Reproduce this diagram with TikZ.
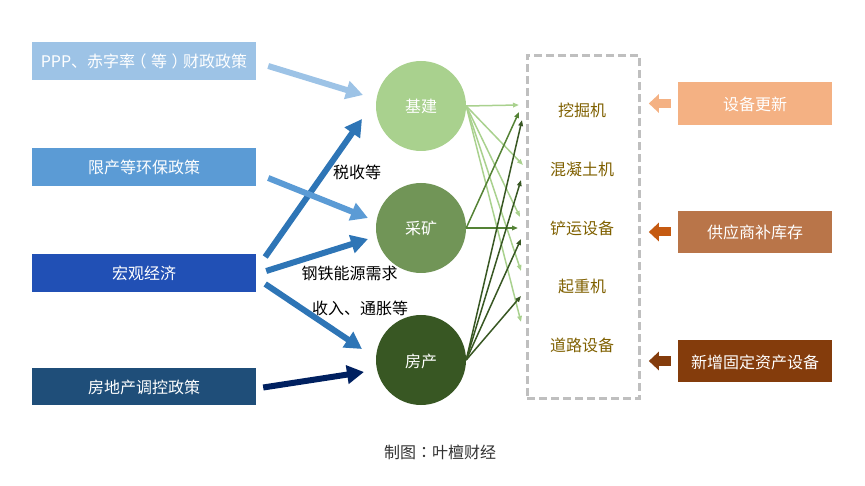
\documentclass[tikz,border=0pt]{standalone}
\usepackage{fontspec}
\setmainfont{Noto Sans CJK SC}
\newfontfamily\tcpunct{Noto Sans CJK TC}
\usetikzlibrary{arrows.meta}

\begin{document}
\begin{tikzpicture}[x=1pt,y=-1pt,
        font=\fontsize{16}{18}\selectfont,
        lbox/.style={rectangle,text=white,inner sep=0pt,text height=14pt,text depth=0pt,minimum width=224pt,minimum height=38pt},
        rbox/.style={rectangle,text=white,inner sep=0pt,text height=14pt,text depth=0pt,minimum width=154pt,minimum height=42pt},
        sector/.style={circle,text=white,inner sep=0pt,text height=14pt,text depth=0pt,minimum size=90pt},
        equip/.style={text=equiptxt,inner sep=0pt,text height=14pt,text depth=0pt},
        note/.style={text=black,inner sep=0pt,text height=14pt,text depth=0pt},
        bigarrow/.style={line width=6pt,-{Triangle[length=17pt,width=18pt]}},
        smallarrow/.style={line width=9pt,-{Triangle[length=10pt,width=18pt]}},
        thinarrow/.style={line width=1.5pt,-{Triangle[length=6pt,width=4.5pt]}}
      ]
      \definecolor{equiptxt}{HTML}{7F6000}
      \definecolor{boxa}{HTML}{9DC3E6}
      \definecolor{boxb}{HTML}{5B9BD5}
      \definecolor{boxc}{HTML}{2150B5}
      \definecolor{boxd}{HTML}{1F4E79}
      \definecolor{arrowblue}{HTML}{2E75B6}
      \definecolor{arrownavy}{HTML}{002060}
      \definecolor{jjgreen}{HTML}{A9D18E}
      \definecolor{ckgreen}{HTML}{719557}
      \definecolor{ckline}{HTML}{548235}
      \definecolor{fcgreen}{HTML}{385723}
      \definecolor{rboxa}{HTML}{F4B183}
      \definecolor{rboxb}{HTML}{B97549}
      \definecolor{arrowb}{HTML}{C55A11}
      \definecolor{rboxc}{HTML}{843C0C}
      \useasboundingbox (0,0) rectangle (865,486);
      % Left boxes.
      \node[lbox,fill=boxa] (ppp) at (144,61) {PPP、赤字率\kern-4.5pt（\kern4.5pt等\kern4.5pt）\kern-4.5pt财政政策};
      \node[lbox,fill=boxb] (xc) at (144,167) {限产等环保政策};
      \node[lbox,fill=boxc] (hg) at (144,273) {宏观经济};
      \node[lbox,fill=boxd,minimum height=37pt] (fd) at (144,386.5) {房地产调控政策};
      % Sectors.
      \node[sector,fill=jjgreen] (jj) at (421,106) {基建};
      \node[sector,fill=ckgreen] (ck) at (421,228) {采矿};
      \node[sector,fill=fcgreen] (fc) at (421,360) {房产};
      % Equipment.
      \node[draw=black!25,dashed,line width=3pt,dash pattern=on 8pt off 4pt,minimum width=112pt,minimum height=343pt,inner sep=0pt] (eq) at (583,227) {};
      \node[equip] (wj) at (582,110) {挖掘机};
      \node[equip] (hn) at (582,169) {混凝土机};
      \node[equip] (cy) at (582,228) {铲运设备};
      \node[equip] (qz) at (582,286) {起重机};
      \node[equip] (dl) at (582,345) {道路设备};
      % Right boxes.
      \node[rbox,fill=rboxa,minimum height=43pt] (gx) at (755,103.5) {设备更新};
      \node[rbox,fill=rboxb] (kc) at (755,232) {供应商补库存};
      \node[rbox,fill=rboxc] (gd) at (755,361) {新增固定资产设备};
      % Labels.
      \node[note] (ss) at (357,172) {税收等};
      \node[note] (gt) at (349.5,272.5) {钢铁能源需求};
      \node[note] (sr) at (360,307.5) {收入、通胀等};
      \node[note,text=black!80] (zt) at (440,451) {制图{\tcpunct ：}叶檀财经};
      % Thin line ends.
      \coordinate (ja) at (519,105);
      \coordinate (jb) at (523,165);
      \coordinate (jc) at (520,217);
      \coordinate (jd) at (521,271);
      \coordinate (je) at (521,322);
      \coordinate (ca) at (519,112);
      \coordinate (cb) at (518,228);
      \coordinate (fa) at (522,120);
      \coordinate (fb) at (521,180);
      \coordinate (fc3) at (521,239);
      \coordinate (fd4) at (521,296);
      % Connections.
      \draw[bigarrow,boxa] ([shift={(12,5)}]ppp.east) -- ([shift={(-58,-11)}]jj.center);
      \draw[bigarrow,arrowblue] ([shift={(9,-16)}]hg.east) -- ([shift={(-59,13)}]jj.center);
      \draw[bigarrow,boxb] ([shift={(12,11)}]xc.east) -- ([shift={(-53,-10)}]ck.center);
      \draw[bigarrow,arrowblue] ([shift={(10,-2)}]hg.east) -- ([shift={(-53,11)}]ck.center);
      \draw[bigarrow,arrowblue] ([shift={(9,11)}]hg.east) -- ([shift={(-59,-11)}]fc.center);
      \draw[bigarrow,arrownavy] ([shift={(7,1)}]fd.east) -- ([shift={(-57,12)}]fc.center);
      \draw[thinarrow,jjgreen] (jj.east) -- (ja);
      \draw[thinarrow,jjgreen] (jj.east) -- (jb);
      \draw[thinarrow,jjgreen] (jj.east) -- (jc);
      \draw[thinarrow,jjgreen] (jj.east) -- (jd);
      \draw[thinarrow,jjgreen] (jj.east) -- (je);
      \draw[thinarrow,ckline] (ck.east) -- (ca);
      \draw[thinarrow,ckline] (ck.east) -- (cb);
      \draw[thinarrow,fcgreen] (fc.east) -- (fa);
      \draw[thinarrow,fcgreen] (fc.east) -- (fb);
      \draw[thinarrow,fcgreen] (fc.east) -- (fc3);
      \draw[thinarrow,fcgreen] (fc.east) -- (fd4);
      \draw[smallarrow,rboxa] ([xshift=-7pt]gx.west) -- ([xshift=-29pt]gx.west);
      \draw[smallarrow,arrowb] ([xshift=-7pt]kc.west) -- ([xshift=-29pt]kc.west);
      \draw[smallarrow,rboxc] ([xshift=-7pt]gd.west) -- ([xshift=-29pt]gd.west);
    \end{tikzpicture}
\end{document}
